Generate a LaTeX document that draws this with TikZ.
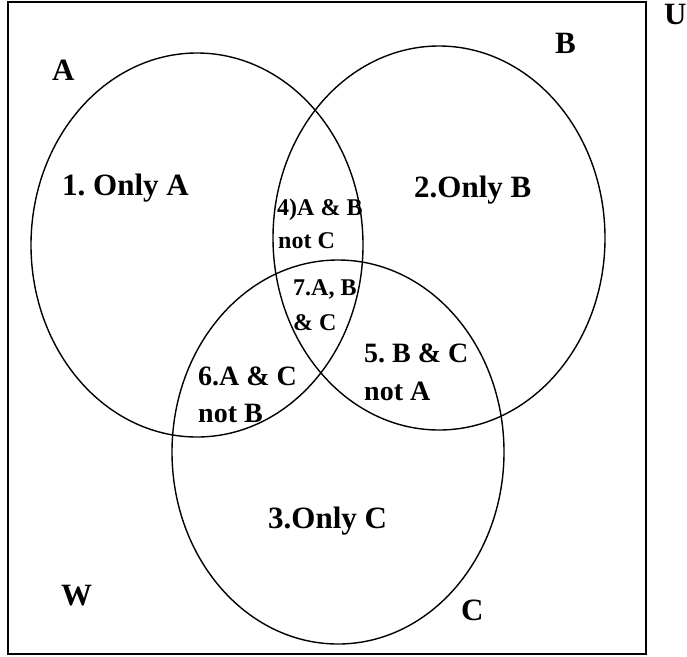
\documentclass[tikz,border=0pt]{standalone}
\usepackage{fontspec}
\setmainfont{Liberation Serif}
\usetikzlibrary{shapes.geometric}
\tikzset{
  setellipse/.style={ellipse, draw, line width=1.4pt, inner sep=0pt,
    minimum width=332pt, minimum height=384pt},
  bigtxt/.style={anchor=base west, inner sep=0pt, font=\fontsize{31}{36}\selectfont\bfseries},
  midtxt/.style={anchor=base west, inner sep=0pt, font=\fontsize{28}{32}\selectfont\bfseries},
  smalltxt/.style={anchor=base west, inner sep=0pt, font=\fontsize{24}{28}\selectfont\bfseries},
}
\frenchspacing
\begin{document}
\begin{tikzpicture}[x=1pt,y=-1pt]
\useasboundingbox (0,0) rectangle (687,656);
\draw[line width=2pt] (8,2) rectangle (646,654);
\node[setellipse] (setA) at (197,245) {};
\node[setellipse] (setB) at (439,238) {};
\node[setellipse] (setC) at (338,452) {};
% set labels
\node[bigtxt] (lA) at (52,80) {A};
\node[bigtxt] (lB) at (555,53) {B};
\node[bigtxt] (lC) at (461,620) {C};
\node[bigtxt] (lU) at (664,24) {U};
\node[bigtxt] (lW) at (61,605) {W};
% regions
\node[bigtxt] (r1) at (62,195) {1. Only A};
\node[bigtxt] (r2) at (414,197) {2.Only B};
\node[bigtxt] (r3) at (268,528) {3.Only C};
\node[smalltxt] (r4a) at (277,215) {4)A \& B};
\node[smalltxt] (r4b) at (278,248) {not C};
\node[smalltxt] (r7a) at (293,295) {7.A, B};
\node[smalltxt] (r7b) at (293,330) {\& C};
\node[midtxt] (r5a) at (364,362) {5. B \& C};
\node[midtxt] (r5b) at (364,400) {not A};
\node[midtxt] (r6a) at (198,385) {6.A \& C};
\node[midtxt] (r6b) at (198,422) {not B};
\end{tikzpicture}
\end{document}
